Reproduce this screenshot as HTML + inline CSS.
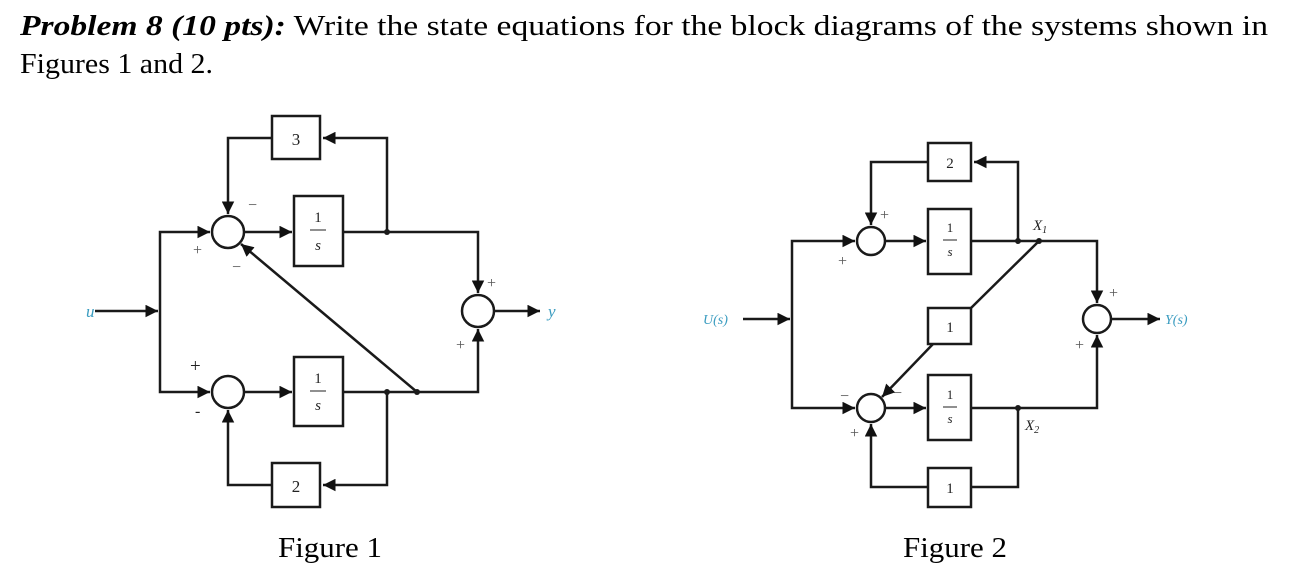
<!DOCTYPE html>
<html><head><meta charset="utf-8"><style>
html,body{margin:0;padding:0;background:#fff;}
svg{display:block;}
text{font-family:"Liberation Serif",serif;}
</style></head><body>
<svg width="1302" height="584" viewBox="0 0 1302 584" xmlns="http://www.w3.org/2000/svg">
<defs>
<marker id="a" viewBox="0 0 10 10" refX="10" refY="5" markerWidth="5" markerHeight="5" orient="auto" markerUnits="strokeWidth"><path d="M0,0 L10,5 L0,10 z" fill="#111"/></marker>
</defs>
<text x="20" y="35" font-size="29" textLength="1248" lengthAdjust="spacingAndGlyphs"><tspan font-weight="bold" font-style="italic">Problem 8 (10 pts):</tspan>  Write the state equations for the block diagrams of the systems shown in</text>
<text x="20" y="73" font-size="29" textLength="193" lengthAdjust="spacingAndGlyphs">Figures 1 and 2.</text>

<g stroke="#1a1a1a" stroke-width="2.5" fill="none">
<!-- Figure 1 -->
<rect x="272" y="116" width="48" height="43" fill="#fff"/>
<rect x="294" y="196" width="49" height="70" fill="#fff"/>
<rect x="294" y="357" width="49" height="69" fill="#fff"/>
<rect x="272" y="463" width="48" height="44" fill="#fff"/>
<circle cx="228" cy="232" r="16"/>
<circle cx="228" cy="392" r="16"/>
<circle cx="478" cy="311" r="16"/>
<path d="M95,311 H158" marker-end="url(#a)"/>
<path d="M160,311 V232 H210" marker-end="url(#a)"/>
<path d="M160,311 V392 H210" marker-end="url(#a)"/>
<path d="M244,232 H292" marker-end="url(#a)"/>
<path d="M244,392 H292" marker-end="url(#a)"/>
<path d="M343,232 H478 V293" marker-end="url(#a)"/>
<path d="M387,232 V138 H323" marker-end="url(#a)"/>
<path d="M272,138 H228 V214" marker-end="url(#a)"/>
<path d="M343,392 H478 V329" marker-end="url(#a)"/>
<path d="M387,392 V485 H323" marker-end="url(#a)"/>
<path d="M272,485 H228 V410" marker-end="url(#a)"/>
<path d="M417,392 L241,244" marker-end="url(#a)"/>
<path d="M494,311 H540" marker-end="url(#a)"/>
<!-- Figure 2 -->
<rect x="928" y="143" width="43" height="38" fill="#fff"/>
<rect x="928" y="209" width="43" height="65" fill="#fff"/>
<rect x="928" y="308" width="43" height="36" fill="#fff"/>
<rect x="928" y="375" width="43" height="65" fill="#fff"/>
<rect x="928" y="468" width="43" height="39" fill="#fff"/>
<circle cx="871" cy="241" r="14"/>
<circle cx="871" cy="408" r="14"/>
<circle cx="1097" cy="319" r="14"/>
<path d="M743,319 H790" marker-end="url(#a)"/>
<path d="M792,319 V241 H855" marker-end="url(#a)"/>
<path d="M792,319 V408 H855" marker-end="url(#a)"/>
<path d="M885,241 H926" marker-end="url(#a)"/>
<path d="M885,408 H926" marker-end="url(#a)"/>
<path d="M971,241 H1097 V303" marker-end="url(#a)"/>
<path d="M1018,241 V162 H974" marker-end="url(#a)"/>
<path d="M928,162 H871 V225" marker-end="url(#a)"/>
<path d="M971,408 H1097 V335" marker-end="url(#a)"/>
<path d="M1018,408 V487 H971"/>
<path d="M928,487 H871 V424" marker-end="url(#a)"/>
<path d="M1039,241 L971,308"/>
<path d="M933,344 L882,397" marker-end="url(#a)"/>
<path d="M1111,319 H1160" marker-end="url(#a)"/>
</g>
<g fill="#1a1a1a">
<circle cx="387" cy="232" r="3"/><circle cx="387" cy="392" r="3"/><circle cx="417" cy="392" r="3"/>
<circle cx="1018" cy="241" r="3"/><circle cx="1039" cy="241" r="3"/><circle cx="1018" cy="408" r="3"/>
</g>
<g font-size="17" fill="#222" text-anchor="middle">
<text x="296" y="145">3</text>
<text x="318" y="222" font-size="15">1</text><line x1="310" y1="230" x2="326" y2="230" stroke="#222" stroke-width="1"/><text x="318" y="250" font-size="15" font-style="italic">s</text>
<text x="318" y="383" font-size="15">1</text><line x1="310" y1="391" x2="326" y2="391" stroke="#222" stroke-width="1"/><text x="318" y="410" font-size="15" font-style="italic">s</text>
<text x="296" y="492">2</text>
<text x="950" y="168" font-size="15">2</text>
<text x="950" y="232" font-size="13">1</text><line x1="943" y1="240" x2="957" y2="240" stroke="#222" stroke-width="1"/><text x="950" y="256" font-size="13" font-style="italic">s</text>
<text x="950" y="332" font-size="15">1</text>
<text x="950" y="399" font-size="13">1</text><line x1="943" y1="407" x2="957" y2="407" stroke="#222" stroke-width="1"/><text x="950" y="423" font-size="13" font-style="italic">s</text>
<text x="950" y="493" font-size="15">1</text>
</g>
<g font-size="16" fill="#555">
<text x="248" y="210">−</text><text x="193" y="255">+</text><text x="232" y="272">−</text>
<text x="190" y="372" fill="#222" font-size="19">+</text><text x="195" y="416" fill="#222">-</text>
<text x="487" y="288">+</text><text x="456" y="350">+</text>
<text x="880" y="220">+</text><text x="838" y="266">+</text>
<text x="840" y="401">−</text><text x="893" y="398">−</text><text x="850" y="438">+</text>
<text x="1109" y="298">+</text><text x="1075" y="350">+</text>
</g>
<g font-style="italic" fill="#3a9cc0">
<text x="86" y="317" font-size="17">u</text>
<text x="548" y="317" font-size="17">y</text>
<text x="703" y="324" font-size="14">U(s)</text>
<text x="1165" y="324" font-size="14">Y(s)</text>
</g>
<g font-style="italic" font-size="15" fill="#222">
<text x="1033" y="230">X<tspan font-size="10" dy="3">1</tspan></text>
<text x="1025" y="430">X<tspan font-size="10" dy="3">2</tspan></text>
</g>
<text x="278" y="557" font-size="29" textLength="104" lengthAdjust="spacingAndGlyphs">Figure 1</text>
<text x="903" y="557" font-size="29" textLength="104" lengthAdjust="spacingAndGlyphs">Figure 2</text>
</svg>
</body></html>
